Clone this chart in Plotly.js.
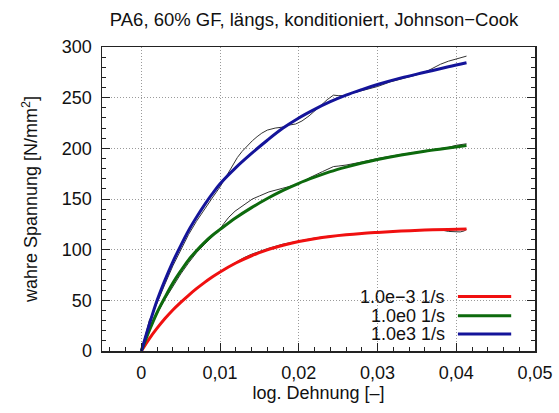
<!DOCTYPE html>
<html>
<head>
<meta charset="utf-8">
<script src="https://cdn.plot.ly/plotly-3.0.1.min.js"></script>
<style>html,body{margin:0;padding:0;background:#fff;}#chart{width:559px;height:413px;}</style>
</head>
<body>
<div id="chart"></div>
<script>
// Johnson-Cook fit curves
var fitStrain = [0, 0.001, 0.002, 0.003, 0.004, 0.005, 0.006, 0.007, 0.008, 0.009, 0.010, 0.012, 0.014, 0.016, 0.018, 0.020, 0.022, 0.024, 0.026, 0.028, 0.030, 0.033, 0.036, 0.039, 0.0413];
var fitRed   = [0, 12, 22.5, 32, 40.5, 48, 55, 61.5, 67.5, 73, 78, 86.8, 94, 99.8, 104.3, 108, 110.8, 113, 114.7, 116, 117, 118.3, 119.3, 119.9, 120.3];
var fitGreen = [0, 20, 38, 53, 67, 79, 90, 99, 107, 114, 120, 131.5, 141.5, 150.5, 158.5, 165.5, 171.5, 177, 181.5, 185.5, 189, 193.5, 197.2, 200.3, 202.8];
var fitBlue  = [0, 26, 50, 70, 88, 104, 119, 132, 144, 155, 165, 181, 195, 208, 220, 230, 238.5, 246, 252.5, 258, 263, 269.5, 275, 280.5, 284.5];

// measured curves (thin black)
var measRedX = [0, 0.001, 0.002, 0.004, 0.006, 0.008, 0.010, 0.012, 0.013, 0.014, 0.016, 0.018, 0.020, 0.022, 0.024, 0.026, 0.028, 0.030, 0.033, 0.036, 0.038, 0.039, 0.040, 0.0405, 0.041, 0.0413];
var measRedY = [0, 12, 22.5, 40.5, 55, 67.5, 78.5, 88, 92, 95.5, 101, 105.5, 108.5, 111.5, 113.5, 115, 116.3, 117.3, 118.5, 119.3, 119.6, 118, 117.5, 117.5, 118.5, 120];

var measGreenX = [0, 0.0005, 0.001, 0.002, 0.003, 0.004, 0.005, 0.006, 0.007, 0.008, 0.009, 0.010, 0.0105, 0.0111, 0.0119, 0.0132, 0.0141, 0.0150, 0.0162, 0.0179, 0.0188, 0.0196, 0.0205, 0.0215, 0.0230, 0.0244, 0.0250, 0.0260, 0.0280, 0.0300, 0.0330, 0.0360, 0.0390, 0.0400, 0.0413];
var measGreenY = [0, 12, 21, 37, 51, 64, 76, 87, 97, 105, 113, 120.5, 126, 132, 138, 145.5, 150, 153, 157, 160.5, 162, 164, 167, 171.5, 177, 182, 182.5, 183.5, 186.5, 190, 194, 197.5, 201, 203, 204.5];

var measBlueX = [0, 0.0005, 0.001, 0.0015, 0.002, 0.003, 0.004, 0.005, 0.006, 0.007, 0.008, 0.009, 0.0100, 0.0106, 0.0115, 0.0122, 0.0128, 0.0135, 0.0141, 0.0147, 0.0153, 0.0160, 0.0170, 0.0180, 0.0188, 0.0196, 0.0204, 0.0213, 0.0221, 0.0229, 0.0236, 0.0244, 0.0250, 0.0258, 0.0266, 0.0282, 0.0300, 0.0316, 0.0333, 0.0350, 0.0365, 0.0380, 0.0390, 0.0400, 0.0413];
var measBlueY = [0, 16, 30, 38, 48, 66, 84, 100, 115, 128, 140, 151, 162, 170, 182, 191, 197, 203, 207.5, 211.5, 215, 218, 220, 221, 223, 224, 227, 232, 238, 243, 248, 252.5, 252, 252, 254, 257.5, 261, 265.5, 269, 272.5, 277, 283, 286, 288, 291];

var legendLabels = ['1.0e\u22123 1/s', '1.0e0 1/s', '1.0e3 1/s'];
var seriesColors = ['#f01010', '#0d6a0d', '#14149a'];

var font = 'Liberation Sans, Arial, sans-serif';
var measStyle = {color: '#333333', width: 1};

var traces = [
  {x: measRedX, y: measRedY, mode: 'lines', line: measStyle, showlegend: false, hoverinfo: 'skip'},
  {x: measGreenX, y: measGreenY, mode: 'lines', line: measStyle, showlegend: false, hoverinfo: 'skip'},
  {x: measBlueX, y: measBlueY, mode: 'lines', line: measStyle, showlegend: false, hoverinfo: 'skip'},
  {x: fitStrain, y: fitRed, mode: 'lines', name: legendLabels[0], line: {color: seriesColors[0], width: 3, shape: 'spline', smoothing: 1}, showlegend: false},
  {x: fitStrain, y: fitGreen, mode: 'lines', name: legendLabels[1], line: {color: seriesColors[1], width: 3, shape: 'spline', smoothing: 1}, showlegend: false},
  {x: fitStrain, y: fitBlue, mode: 'lines', name: legendLabels[2], line: {color: seriesColors[2], width: 3, shape: 'spline', smoothing: 1}, showlegend: false}
];

// legend drawn as text + sample lines (text left of sample, as in original)
var legY = [0.179, 0.116, 0.056];
var annotations = [];
var shapes = [];
for (var i = 0; i < legendLabels.length; i++) {
  annotations.push({xref: 'paper', yref: 'paper', x: 0.797, y: legY[i], xanchor: 'right', yanchor: 'middle',
    text: legendLabels[i], showarrow: false, font: {family: font, size: 18, color: '#111'}});
  shapes.push({type: 'line', xref: 'paper', yref: 'paper', x0: 0.822, x1: 0.945, y0: legY[i], y1: legY[i],
    line: {color: seriesColors[i], width: 3}});
}

var layout = {
  width: 559, height: 413,
  margin: {l: 102, r: 24, t: 47, b: 62},
  paper_bgcolor: '#fff', plot_bgcolor: '#fff',
  separators: ',.',
  font: {family: font, size: 18, color: '#111'},
  title: {text: 'PA6, 60% GF, längs, konditioniert, Johnson\u2212Cook', font: {family: font, size: 18.5, color: '#111'},
    xref: 'container', yref: 'container', x: 314/559, xanchor: 'center', y: 1 - 20/413, yanchor: 'middle'},
  xaxis: {
    range: [-0.005, 0.05], tick0: 0, dtick: 0.01, tickmode: 'linear',
    ticks: 'inside', ticklen: 8, tickwidth: 1, tickcolor: '#222',
    minor: {dtick: 0.002, tick0: 0, ticks: 'inside', ticklen: 4, tickwidth: 1, tickcolor: '#222', showgrid: false},
    showline: true, linecolor: '#222', linewidth: 1.5, mirror: true,
    showgrid: true, gridcolor: '#9a9a9a', griddash: '1px,2px', gridwidth: 1,
    zeroline: false, ticklabelstandoff: 5,
    tickfont: {family: font, size: 18, color: '#111'},
    title: {text: 'log. Dehnung [\u2013]', font: {family: font, size: 18, color: '#111'}, standoff: 2}
  },
  yaxis: {
    range: [0, 300], tick0: 0, dtick: 50, tickmode: 'linear',
    ticks: 'inside', ticklen: 8, tickwidth: 1, tickcolor: '#222',
    minor: {dtick: 10, tick0: 0, ticks: 'inside', ticklen: 4, tickwidth: 1, tickcolor: '#222', showgrid: false},
    showline: true, linecolor: '#222', linewidth: 1.5, mirror: 'ticks',
    showgrid: true, gridcolor: '#9a9a9a', griddash: '1px,2px', gridwidth: 1,
    zeroline: false, ticklabelstandoff: 5,
    tickfont: {family: font, size: 18, color: '#111'},
    title: {text: 'wahre Spannung [N/mm<sup>2</sup>]', font: {family: font, size: 18, color: '#111'}, standoff: 19}
  },
  annotations: annotations,
  shapes: shapes,
  showlegend: false
};

Plotly.newPlot('chart', traces, layout, {staticPlot: true, displayModeBar: false});
</script>
</body>
</html>
